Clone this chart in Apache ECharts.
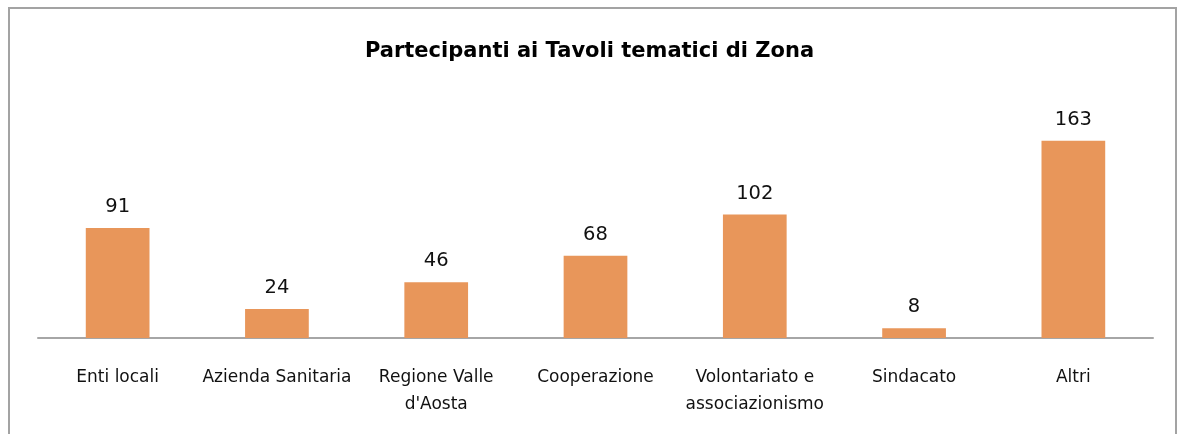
<!DOCTYPE html>
<html><head><meta charset="utf-8">
<script src="https://cdn.jsdelivr.net/npm/echarts@6/dist/echarts.min.js"></script>
<style>html,body{margin:0;padding:0;background:#fff}#c{width:1179px;height:434px}</style>
</head><body><div id="c"></div>
<script>
const titleText = 'Partecipanti ai Tavoli tematici di Zona';
const categories = ['Enti locali','Azienda Sanitaria',"Regione Valle\nd'Aosta",'Cooperazione','Volontariato e\nassociazionismo','Sindacato','Altri'];
const values = [91,24,46,68,102,8,163];

const chart = echarts.init(document.getElementById('c'));
chart.setOption({
  animation:false,
  title:{text:titleText,left:'center',top:36,textStyle:{fontFamily:'DejaVu Sans',fontWeight:'bold',fontSize:21,color:'#000'}},
  graphic:[{type:'rect',shape:{x:9,y:8,width:1167,height:460},style:{fill:'none',stroke:'#A3A3A3',lineWidth:2},silent:true}],
  grid:{left:38,right:26,top:96,bottom:96},
  xAxis:{type:'category',data:categories,
    axisLine:{lineStyle:{color:'#A6A6A6',width:2}},axisTick:{show:false},
    axisLabel:{fontFamily:'DejaVu Sans',fontSize:17,color:'#111',margin:26,lineHeight:27,interval:0}},
  yAxis:{type:'value',min:0,max:200,show:false,splitLine:{show:false}},
  series:[{type:'bar',data:values,barWidth:'40%',itemStyle:{color:'#E8965A'},
    label:{show:true,position:'top',distance:11,fontFamily:'DejaVu Sans',fontSize:19.5,color:'#111'}}]
});
</script></body></html>
